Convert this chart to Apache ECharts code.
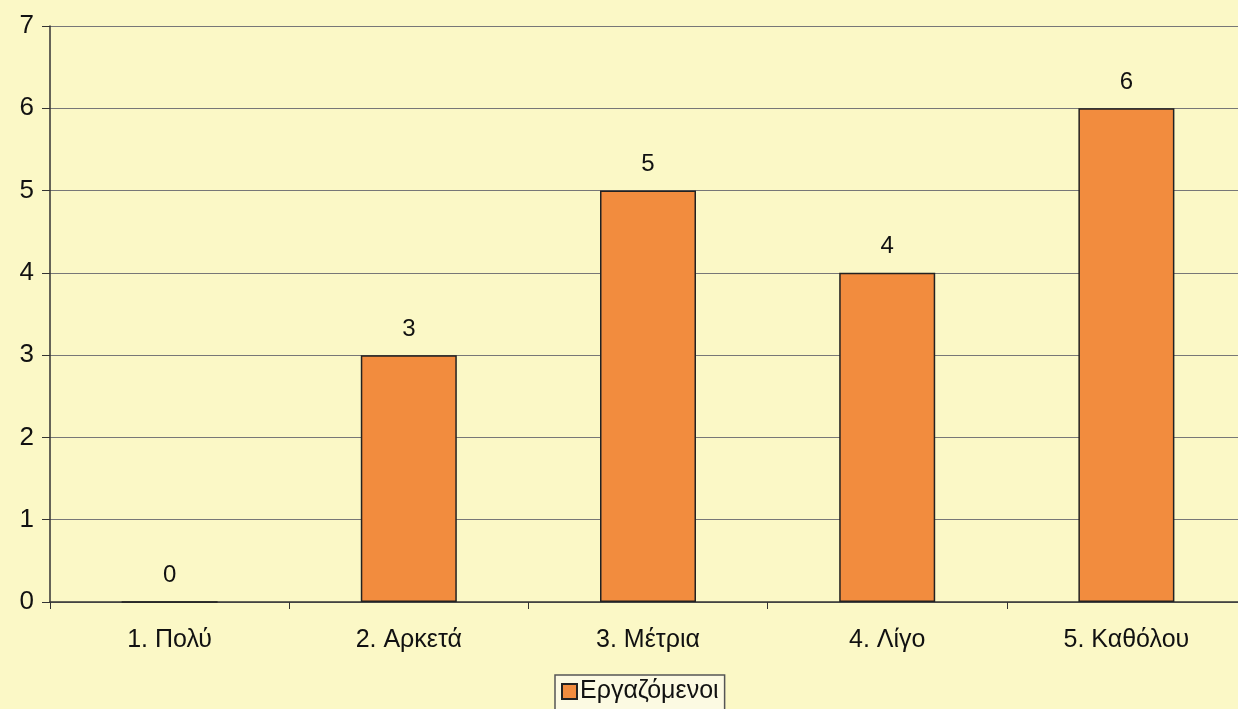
<!DOCTYPE html>
<html><head><meta charset="utf-8">
<script src="https://cdn.jsdelivr.net/npm/echarts@6/dist/echarts.min.js"></script>
<style>html,body{margin:0;padding:0;background:#FBF8C6;}#c{width:1238px;height:709px;}</style>
</head><body><div id="c"></div>
<script>
var categories = ['1. Πολύ', '2. Αρκετά', '3. Μέτρια', '4. Λίγο', '5. Καθόλου'];
var values = [0, 3, 5, 4, 6];
var seriesName = 'Εργαζόμενοι';
var chart = echarts.init(document.getElementById('c'));
chart.setOption({
  backgroundColor: '#FBF8C6',
  textStyle: {fontFamily: 'Liberation Sans'},
  grid: {left: 50, width: 1196, top: 26, bottom: 107, outerBoundsMode: 'none', containLabel: false},
  legend: {
    top: 675, left: 555,
    data: [seriesName],
    icon: 'rect',
    itemWidth: 15, itemHeight: 15, itemGap: 4,
    itemStyle: {borderColor: '#222', borderWidth: 2},
    backgroundColor: '#FCFAE2', borderColor: '#555', borderWidth: 1.5,
    padding: [4, 6, 10, 6],
    textStyle: {fontSize: 25, color: '#111', fontFamily: 'Liberation Sans', padding: [0,0,0,-2]}
  },
  xAxis: {
    type: 'category', data: categories,
    axisLine: {lineStyle: {color: '#333', width: 1.5}},
    axisTick: {show: true, length: 7, lineStyle: {color: '#333'}},
    axisLabel: {fontSize: 25, color: '#111', margin: 26}
  },
  yAxis: {
    type: 'value', min: 0, max: 7, interval: 1,
    axisLine: {show: true, lineStyle: {color: '#333', width: 1.5}},
    axisTick: {show: true, length: 8, lineStyle: {color: '#333'}},
    axisLabel: {fontSize: 26, color: '#111', margin: 16},
    splitLine: {lineStyle: {color: '#777', width: 1.2}}
  },
  series: [{
    name: seriesName, type: 'bar', data: values, barWidth: 96,
    itemStyle: {color: '#F28C3E', borderColor: '#222', borderWidth: 1.5},
    label: {show: true, position: 'top', distance: 14, fontSize: 24, color: '#111'}
  }]
});
</script></body></html>
